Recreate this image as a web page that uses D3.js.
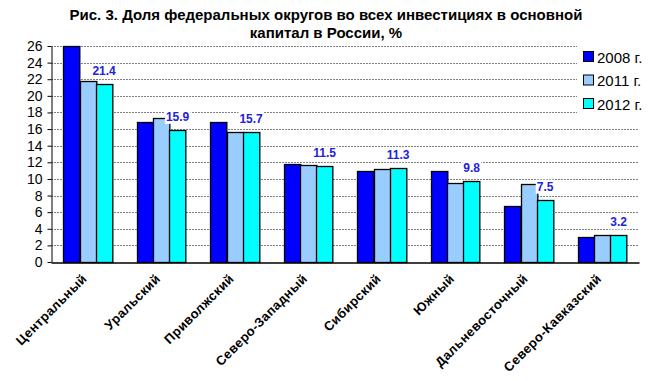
<!DOCTYPE html>
<html><head><meta charset="utf-8">
<script src="https://cdn.jsdelivr.net/npm/d3@7"></script>
<style>body{margin:0;background:#fff}svg{display:block}</style>
</head><body>
<svg id="c" width="648" height="381"></svg>
<script>
const categories = ["Центральный","Уральский","Приволжский","Северо-Западный","Сибирский","Южный","Дальневосточный","Северо-Кавказский"];
const series = ["2008 г.","2011 г.","2012 г."];
const values2008 = [26.0,16.9,16.9,11.8,10.9,11.0,6.7,3.0];
const values2011 = [21.8,17.3,15.6,11.7,11.2,9.5,9.4,3.3];
const values2012 = [21.4,15.9,15.7,11.5,11.3,9.8,7.5,3.2];
const colors = ["#0000ff","#99ccff","#00ffff"];
const yTicks = [0,2,4,6,8,10,12,14,16,18,20,22,24,26];
const titleLines = ["Рис. 3. Доля федеральных округов во всех инвестициях в основной","капитал в России, %"];

(function(){
const data = [values2008, values2011, values2012];
const svg = d3.select("#c");
const mLeft = 51, mRight = 639, mTop = 46, mBottom = 262;
const x = d3.scaleBand().domain(categories).range([mLeft, mRight]).paddingInner(1/3).paddingOuter(1/6);
const xs = d3.scaleBand().domain(series).range([0, x.bandwidth()]);
const y = d3.scaleLinear().domain([0, 26]).range([mBottom, mTop]);

// title
svg.selectAll("text.title").data(titleLines).join("text")
  .attr("x", 326).attr("y", (d,i)=>20+i*18).attr("text-anchor","middle")
  .attr("font-family","Arial, Liberation Sans, sans-serif").attr("font-weight","bold").attr("font-size",15)
  .text(d=>d);

// gridlines
const legendTopY = y(17);
svg.append("g").selectAll("line").data(yTicks.filter(t=>t>0)).join("line")
  .attr("x1", mLeft).attr("x2", d => y(d) < legendTopY ? 577 : mRight)
  .attr("y1", d=>Math.round(y(d))+0.5).attr("y2", d=>Math.round(y(d))+0.5)
  .attr("stroke","#808080").attr("stroke-width",1).attr("stroke-dasharray","2,1");

// bars
const g = svg.append("g");
series.forEach((s, si) => {
  g.selectAll("rect.s"+si).data(categories).join("rect")
    .attr("x", d => Math.round(x(d) + xs(s)) + 0.5)
    .attr("y", (d,i) => Math.round(y(data[si][i])) + 0.5)
    .attr("width", xs.bandwidth())
    .attr("height", (d,i) => mBottom - Math.round(y(data[si][i])))
    .attr("fill", colors[si]).attr("stroke","#000").attr("stroke-width",1.3);
});

// value labels for 2012
const lab = svg.append("g");
categories.forEach((c, i) => {
  const cx = x(c) + xs(series[2]) + xs.bandwidth()/2;
  const cy = y(values2012[i]) - 9;
  const t = lab.append("text").attr("x", cx).attr("y", cy).attr("text-anchor","middle")
    .attr("font-family","Arial, Liberation Sans, sans-serif").attr("font-weight","bold").attr("font-size",12)
    .attr("fill","#2222dd").text(values2012[i].toFixed(1));
  const bb = t.node().getBBox();
  lab.insert("rect", () => t.node()).attr("x", bb.x-1).attr("y", bb.y).attr("width", bb.width+2).attr("height", bb.height).attr("fill","#fff");
});

// axes
const yAxis = d3.axisLeft(y).tickValues(yTicks).tickSize(4).tickSizeOuter(0);
const ya = svg.append("g").attr("transform",`translate(${mLeft+0.5},0)`).call(yAxis);
ya.selectAll("text").attr("font-family","Arial, Liberation Sans, sans-serif").attr("font-size",14).attr("fill","#000").attr("x",-9);
ya.select(".domain").attr("stroke","#000");
ya.selectAll(".tick line").attr("stroke","#000");

const xAxis = d3.axisBottom(x).tickSize(0).tickSizeOuter(0);
const xa = svg.append("g").attr("transform",`translate(0,${mBottom+0.5})`).call(xAxis);
xa.select(".domain").attr("stroke","#000").attr("stroke-width",1.5);
xa.selectAll("text").attr("font-family","Arial, Liberation Sans, sans-serif").attr("font-weight","bold").attr("font-size",13)
  .attr("letter-spacing","0.4px")
  .attr("fill","#000").attr("text-anchor","end")
  .attr("transform","translate(0,17) rotate(-45)").attr("dy",0).attr("y",0).attr("x",0);

// legend
const leg = svg.append("g");
leg.append("rect").attr("x",578).attr("y",40).attr("width",70).attr("height",78).attr("fill","#fff");
series.forEach((s, i) => {
  const cy = 57 + i*23.5;
  leg.append("rect").attr("x",583.5).attr("y",cy-5.5).attr("width",10).attr("height",10)
    .attr("fill",colors[i]).attr("stroke","#000").attr("stroke-width",1);
  leg.append("text").attr("x",597).attr("y",cy+5.5).attr("font-family","Arial, Liberation Sans, sans-serif")
    .attr("font-size",15).text(s);
});
})();
</script>
</body></html>
